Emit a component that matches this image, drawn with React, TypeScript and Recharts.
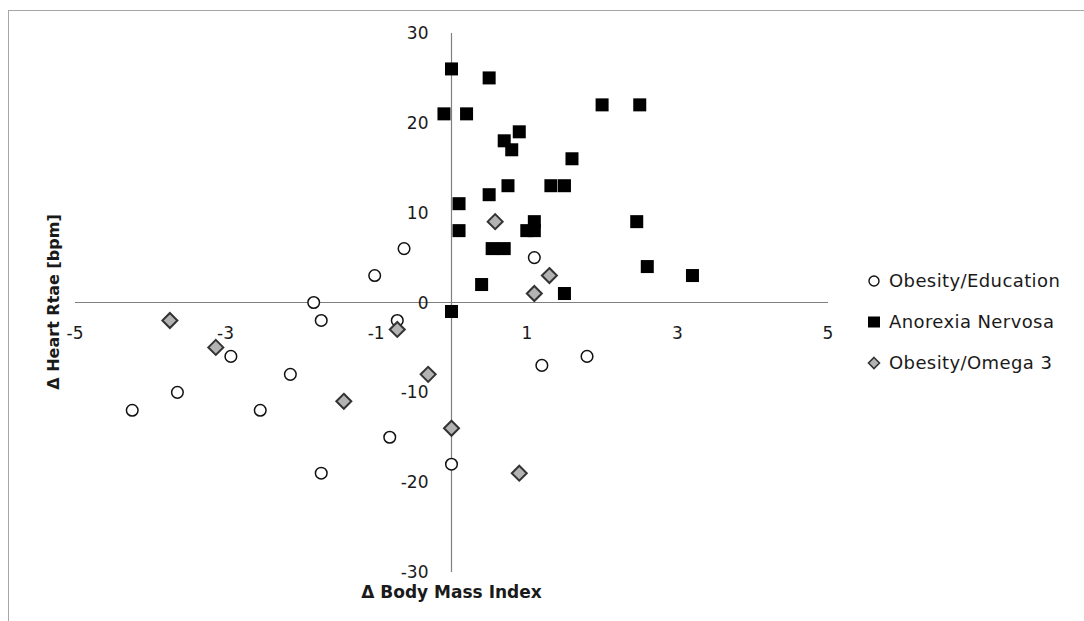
import React from 'react';
import { ScatterChart, Scatter, XAxis, YAxis, ReferenceLine, ReferenceDot } from 'recharts';

const obesityEducation = [
  { x: -1.83, y: 0 }, { x: -1.73, y: -2 }, { x: -0.72, y: -2 }, { x: -2.93, y: -6 },
  { x: -2.14, y: -8 }, { x: -3.64, y: -10 }, { x: -4.24, y: -12 }, { x: -2.54, y: -12 },
  { x: -0.82, y: -15 }, { x: -1.73, y: -19 }, { x: 0, y: -18 }, { x: -1.02, y: 3 },
  { x: -0.63, y: 6 }, { x: 1.1, y: 5 }, { x: 1.2, y: -7 }, { x: 1.8, y: -6 },
];

const anorexiaNervosa = [
  { x: 0, y: 26 }, { x: 0.5, y: 25 }, { x: -0.1, y: 21 }, { x: 0.2, y: 21 },
  { x: 2.0, y: 22 }, { x: 2.5, y: 22 }, { x: 0.9, y: 19 }, { x: 0.7, y: 18 },
  { x: 0.8, y: 17 }, { x: 1.6, y: 16 }, { x: 0.75, y: 13 }, { x: 1.32, y: 13 },
  { x: 1.5, y: 13 }, { x: 0.5, y: 12 }, { x: 0.1, y: 11 }, { x: 0.1, y: 8 },
  { x: 1.1, y: 9 }, { x: 1.0, y: 8 }, { x: 1.1, y: 8 }, { x: 0.54, y: 6 },
  { x: 0.7, y: 6 }, { x: 2.46, y: 9 }, { x: 2.6, y: 4 }, { x: 3.2, y: 3 },
  { x: 0.4, y: 2 }, { x: 1.5, y: 1 }, { x: 0, y: -1 },
];

const obesityOmega3 = [
  { x: -3.74, y: -2 }, { x: -3.13, y: -5 }, { x: -0.72, y: -3 }, { x: -0.31, y: -8 },
  { x: -1.43, y: -11 }, { x: 0, y: -14 }, { x: 0.9, y: -19 }, { x: 0.58, y: 9 },
  { x: 1.3, y: 3 }, { x: 1.1, y: 1 },
];

const xTicks = [-5, -3, -1, 1, 3, 5];
const yTicks = [-30, -20, -10, 0, 10, 20, 30];

const seriesNames = ['Obesity/Education', 'Anorexia Nervosa', 'Obesity/Omega 3'];
const xTitle = 'Δ Body Mass Index';
const yTitle = 'Δ Heart Rtae [bpm]';

const FONT = "'DejaVu Sans', 'Open Sans', sans-serif";
const TEXT = '#1a1a1a';

const CircleShape = (p: any) => (
  <circle cx={p.cx} cy={p.cy} r={5.8} fill="#fff" stroke="#111" strokeWidth={1.5} />
);
const SquareShape = (p: any) => (
  <rect x={p.cx - 6.5} y={p.cy - 6.5} width={13} height={13} fill="#000" />
);
const DiamondShape = (p: any) => (
  <polygon
    points={`${p.cx},${p.cy - 7.5} ${p.cx + 7.5},${p.cy} ${p.cx},${p.cy + 7.5} ${p.cx - 7.5},${p.cy}`}
    fill="#b3b3b3"
    stroke="#333"
    strokeWidth={2}
  />
);

const legendMarkers = [
  <svg width={14} height={14} key="c"><circle cx={7} cy={7} r={5} fill="#fff" stroke="#111" strokeWidth={1.4} /></svg>,
  <svg width={14} height={14} key="s"><rect x={1} y={1.5} width={12} height={11} fill="#000" /></svg>,
  <svg width={14} height={14} key="d"><polygon points="7,1.5 12.5,7 7,12.5 1.5,7" fill="#b3b3b3" stroke="#333" strokeWidth={1.6} /></svg>,
];

export default function App() {
  return (
    <div style={{ position: 'absolute', left: 0, top: 0, width: 1084, height: 621, background: '#fff', fontFamily: FONT, overflow: 'hidden' }}>
      <div
        style={{
          position: 'absolute', left: 8, top: 10, width: 1076, height: 611, boxSizing: 'border-box',
          borderLeft: '1px solid #a6a6a6', borderTop: '1px solid #a6a6a6',
        }}
      />
      <div style={{ position: 'absolute', left: 0, top: 0 }}>
        <ScatterChart width={1084} height={621} margin={{ top: 33, right: 256, bottom: 49, left: 75 }}>
          <XAxis type="number" dataKey="x" domain={[-5, 5]} hide height={0} allowDataOverflow />
          <YAxis type="number" dataKey="y" domain={[-30, 30]} hide width={0} allowDataOverflow />
          <ReferenceLine
            x={0}
            stroke="#808080"
            strokeWidth={1.2}
            label={{ value: xTitle, position: 'bottom', offset: 14, fill: TEXT, fontSize: 17, fontWeight: 'bold', fontFamily: FONT }}
          />
          <ReferenceLine y={0} stroke="#808080" strokeWidth={1.2} />
          {xTicks.map((t) => (
            <ReferenceDot
              key={'xt' + t}
              x={t}
              y={0}
              r={0}
              fill="none"
              stroke="none"
              label={{ value: String(t), position: 'bottom', offset: 24, fill: TEXT, fontSize: 17, fontFamily: FONT }}
            />
          ))}
          {yTicks.map((t) => (
            <ReferenceDot
              key={'yt' + t}
              x={0}
              y={t}
              r={0}
              fill="none"
              stroke="none"
              label={{ value: String(t), position: 'left', offset: 23, fill: TEXT, fontSize: 17, fontFamily: FONT }}
            />
          ))}
          <Scatter name={seriesNames[0]} data={obesityEducation} shape={CircleShape} isAnimationActive={false} />
          <Scatter name={seriesNames[1]} data={anorexiaNervosa} shape={SquareShape} isAnimationActive={false} />
          <Scatter name={seriesNames[2]} data={obesityOmega3} shape={DiamondShape} isAnimationActive={false} />
        </ScatterChart>
      </div>
      <div
        style={{
          position: 'absolute', left: 54, top: 302, transform: 'translate(-50%, -50%) rotate(-90deg)',
          whiteSpace: 'nowrap', fontWeight: 'bold', fontSize: 16, color: TEXT, lineHeight: 1,
        }}
      >
        {yTitle}
      </div>
      <div style={{ position: 'absolute', left: 867, top: 260, color: TEXT, fontSize: 18, letterSpacing: 0.4 }}>
        {seriesNames.map((n, i) => (
          <div key={n} style={{ display: 'flex', alignItems: 'center', height: 41 }}>
            <span style={{ display: 'inline-flex', width: 22 }}>{legendMarkers[i]}</span>
            <span>{n}</span>
          </div>
        ))}
      </div>
    </div>
  );
}
